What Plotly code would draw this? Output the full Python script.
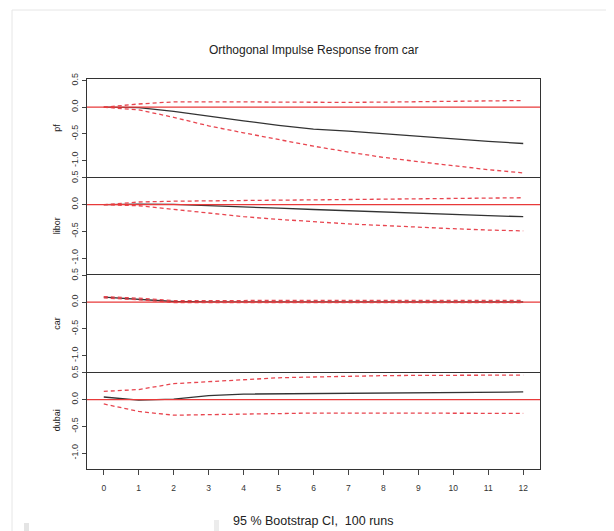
import plotly.graph_objects as go
from plotly.subplots import make_subplots

# ---------------- data ----------------
horizons = list(range(13))
variables = ["pf", "libor", "car", "dubai"]

pf_irf = [0.0, -0.01, -0.08, -0.175, -0.256, -0.34, -0.41, -0.45, -0.50, -0.55, -0.60, -0.64, -0.68]
pf_upper = [0.0, 0.06, 0.10, 0.105, 0.10, 0.095, 0.09, 0.09, 0.095, 0.10, 0.11, 0.115, 0.125]
pf_lower = [0.0, -0.05, -0.19, -0.35, -0.48, -0.61, -0.73, -0.84, -0.94, -1.02, -1.10, -1.17, -1.23]

libor_irf = [0.0, 0.01, 0.005, -0.015, -0.04, -0.065, -0.09, -0.115, -0.14, -0.16, -0.185, -0.205, -0.225]
libor_upper = [0.0, 0.05, 0.065, 0.075, 0.08, 0.085, 0.09, 0.095, 0.10, 0.105, 0.115, 0.12, 0.13]
libor_lower = [0.0, -0.02, -0.0875, -0.16, -0.225, -0.275, -0.32, -0.36, -0.39, -0.425, -0.45, -0.475, -0.49]

car_irf = [0.094, 0.056, 0.0125, 0.006, 0.005, 0.004, 0.004, 0.003, 0.003, 0.003, 0.003, 0.003, 0.003]
car_upper = [0.105, 0.075, 0.03, 0.03, 0.03, 0.03, 0.03, 0.03, 0.03, 0.032, 0.033, 0.034, 0.035]
car_lower = [0.08, 0.045, -0.006, -0.01, -0.01, -0.01, -0.01, -0.01, -0.01, -0.01, -0.01, -0.01, -0.01]

dubai_irf = [0.05, -0.01, 0.01, 0.075, 0.105, 0.11, 0.115, 0.12, 0.125, 0.13, 0.135, 0.14, 0.145]
dubai_upper = [0.156, 0.19, 0.30, 0.34, 0.375, 0.41, 0.425, 0.44, 0.45, 0.455, 0.455, 0.46, 0.46]
dubai_lower = [-0.08, -0.22, -0.29, -0.28, -0.26, -0.25, -0.25, -0.25, -0.25, -0.25, -0.25, -0.25, -0.256]

irf_series = [pf_irf, libor_irf, car_irf, dubai_irf]
upper_series = [pf_upper, libor_upper, car_upper, dubai_upper]
lower_series = [pf_lower, libor_lower, car_lower, dubai_lower]

y_tick_vals = [-1.0, -0.5, 0.0, 0.5]
y_tick_text = ["-1.0", "-0.5", "0.0", "0.5"]
x_tick_vals = horizons
title_text = "Orthogonal Impulse Response from car"
caption_text = "95 % Bootstrap CI,  100 runs"

# ---------------- figure ----------------
OFF = 8                      # page body margin of the rendered html
W, H = 614 - OFF, 531 - OFF
FONT = "Liberation Sans, Arial, sans-serif"


def px_x(p):
    return (p - OFF) / W


def px_y(p):
    return 1 - (p - OFF) / H


fig = make_subplots(rows=4, cols=1, shared_xaxes=True, vertical_spacing=0)

all_vals = [v for s in upper_series + lower_series + irf_series for v in s]
ymin, ymax = min(all_vals), max(all_vals)
ext = 0.04 * (ymax - ymin)
y_range = [ymin - ext, ymax + ext]
x_ext = 0.04 * (max(horizons) - min(horizons))
x_range = [min(horizons) - x_ext, max(horizons) + x_ext]

bounds = [79, 176.5, 274, 371.5, 469]
left_px, right_px = 87, 540

dash_col = "#e8454f"
for i, name in enumerate(variables):
    r = i + 1
    fig.add_trace(go.Scatter(x=horizons, y=irf_series[i], mode="lines",
                             line=dict(color="#333333", width=1.3), showlegend=False), row=r, col=1)
    fig.add_trace(go.Scatter(x=horizons, y=upper_series[i], mode="lines",
                             line=dict(color=dash_col, width=1.3, dash="4px,3px"), showlegend=False), row=r, col=1)
    fig.add_trace(go.Scatter(x=horizons, y=lower_series[i], mode="lines",
                             line=dict(color=dash_col, width=1.3, dash="4px,3px"), showlegend=False), row=r, col=1)
    sfx = "" if r == 1 else str(r)
    fig.add_shape(type="line", xref=f"x{sfx} domain", x0=0, x1=1, yref=f"y{sfx}", y0=0, y1=0,
                  line=dict(color="#e83a3a", width=1.3), layer="above")
    fig.add_annotation(text=name, xref="paper", yref="paper", x=px_x(57),
                       y=px_y((bounds[i] + bounds[i + 1]) / 2), textangle=-90,
                       showarrow=False, font=dict(size=9, color="#222", family=FONT),
                       xanchor="center", yanchor="middle")
    fig.update_yaxes(row=r, col=1, range=y_range, domain=[px_y(bounds[i + 1]), px_y(bounds[i])],
                     tickvals=y_tick_vals, ticktext=y_tick_text, tickangle=-90,
                     ticks="outside", ticklen=4, tickcolor="#444", tickwidth=1,
                     tickfont=dict(size=9, color="#333", family=FONT),
                     showgrid=False, zeroline=False, showline=True, mirror=True,
                     linecolor="#333", linewidth=1.2, automargin=False)
    fig.update_xaxes(row=r, col=1, range=x_range, domain=[px_x(left_px), px_x(right_px)],
                     showgrid=False, zeroline=False, showline=True, mirror=(r == 1),
                     linecolor="#333", linewidth=1.2,
                     tickvals=x_tick_vals, ticks="outside" if r == 4 else "",
                     ticklen=5, tickcolor="#444", tickwidth=1,
                     showticklabels=(r == 4),
                     tickfont=dict(size=8.5, color="#333", family=FONT),
                     ticklabelstandoff=6, automargin=False)

fig.add_annotation(text=title_text, xref="paper", yref="paper", x=px_x(313.5), y=px_y(50),
                   showarrow=False, font=dict(size=12, color="#222", family=FONT),
                   xanchor="center", yanchor="middle")
fig.add_annotation(text=caption_text, xref="paper", yref="paper", x=px_x(313.5), y=px_y(521),
                   showarrow=False, font=dict(size=12.5, color="#222", family=FONT),
                   xanchor="center", yanchor="middle")

# faint frame of the screenshot
fig.add_shape(type="line", xref="paper", yref="paper", x0=px_x(12), x1=1, y0=px_y(10), y1=px_y(10),
              line=dict(color="#e6e6e6", width=1))
fig.add_shape(type="line", xref="paper", yref="paper", x0=px_x(12), x1=px_x(12), y0=0, y1=px_y(10),
              line=dict(color="#e6e6e6", width=1))
fig.add_shape(type="rect", xref="paper", yref="paper", x0=px_x(24), x1=px_x(29), y0=0, y1=px_y(523),
              line=dict(width=0), fillcolor="#e4e4e4")
fig.add_shape(type="rect", xref="paper", yref="paper", x0=px_x(214), x1=px_x(219), y0=0, y1=px_y(520),
              line=dict(width=0), fillcolor="#ececec")

fig.update_layout(width=W, height=H, margin=dict(l=0, r=0, t=0, b=0, autoexpand=False),
                  paper_bgcolor="white", plot_bgcolor="white", showlegend=False)

fig.write_html("out.html")
